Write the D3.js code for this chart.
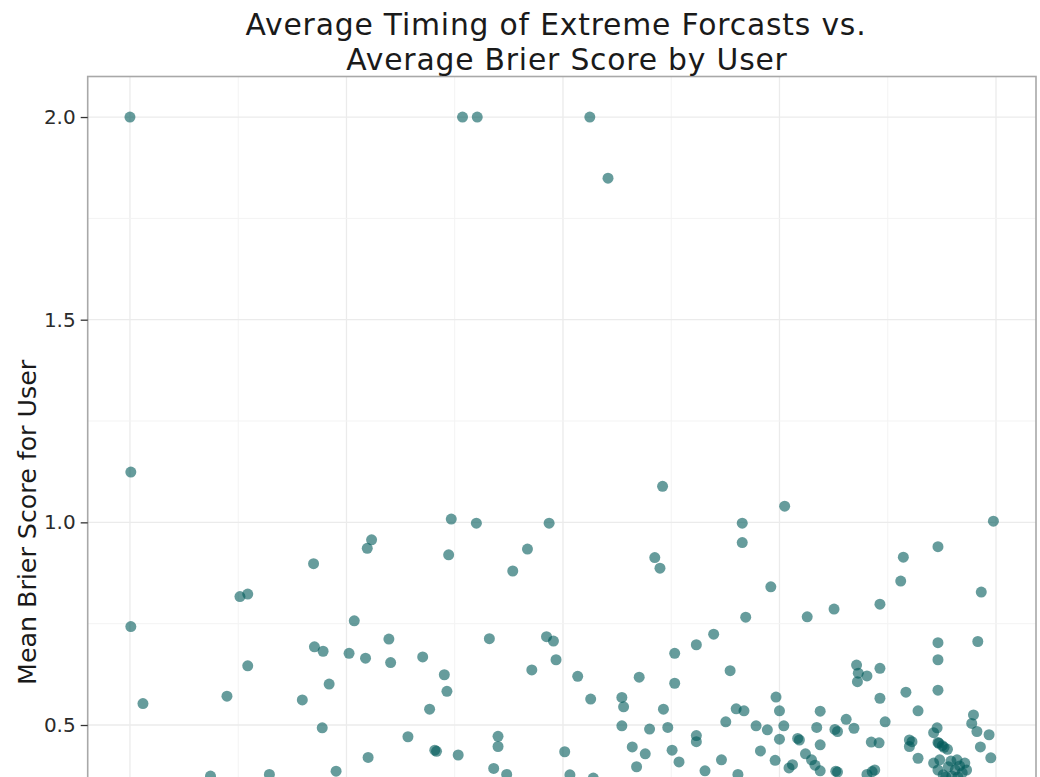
<!DOCTYPE html>
<html>
<head>
<meta charset="utf-8">
<script src="https://cdn.jsdelivr.net/npm/d3@7"></script>
<style>
  html, body { margin: 0; padding: 0; background: #fff; overflow: hidden; }
  svg { display: block; font-family: "DejaVu Sans", sans-serif; }
</style>
</head>
<body>
<svg id="chart" width="1040" height="777"></svg>
<script>
// ---- data ----
const titleLines = ["Average Timing of Extreme Forcasts vs.", "Average Brier Score by User"];
const yAxisLabel = "Mean Brier Score for User";
const yTickValues = [0.5, 1.0, 1.5, 2.0];
const yTickLabels = ["0.5", "1.0", "1.5", "2.0"];
const xGridValues = [0, 0.125, 0.25, 0.375, 0.5, 0.625, 0.75, 0.875, 1.0];
const yGridValues = [0, 0.25, 0.5, 0.75, 1.0, 1.25, 1.5, 1.75, 2.0];

const timing = [
  0.000, 0.384, 0.401, 0.531, 0.552, 0.001, 0.001, 0.279, 0.274, 0.212,
  0.127, 0.136, 0.259, 0.299, 0.213, 0.223, 0.253, 0.272, 0.301, 0.338,
  0.136, 0.015, 0.112, 0.199, 0.230, 0.222, 0.321, 0.275, 0.093, 0.161,
  0.238, 0.346, 0.363, 0.366, 0.352, 0.354, 0.379, 0.425, 0.425, 0.420,
  0.435, 0.464, 0.492, 0.502, 0.371, 0.400, 0.484, 0.368, 0.459, 0.442,
  0.615, 0.606, 0.612, 0.707, 0.707, 0.415, 0.481, 0.489, 0.517, 0.532,
  0.568, 0.570, 0.588, 0.629, 0.629, 0.654, 0.674, 0.693, 0.700, 0.709,
  0.688, 0.616, 0.568, 0.600, 0.621, 0.654, 0.654, 0.580, 0.595, 0.585,
  0.626, 0.634, 0.683, 0.664, 0.702, 0.508, 0.535, 0.756, 0.997, 0.933,
  0.893, 0.890, 0.740, 0.983, 0.866, 0.813, 0.782, 0.711, 0.933, 0.979,
  0.933, 0.839, 0.841, 0.851, 0.840, 0.866, 0.896, 0.866, 0.933, 0.910,
  0.872, 0.746, 0.750, 0.797, 0.723, 0.736, 0.755, 0.750, 0.771, 0.773,
  0.793, 0.814, 0.817, 0.827, 0.836, 0.797, 0.780, 0.787, 0.765, 0.761,
  0.728, 0.745, 0.791, 0.815, 0.817, 0.797, 0.856, 0.865, 0.900, 0.903,
  0.900, 0.910, 0.857, 0.860, 0.851, 0.932, 0.928, 0.933, 0.938, 0.944,
  0.934, 0.940, 0.974, 0.972, 0.978, 0.992, 0.982, 0.994, 0.928, 0.933,
  0.939, 0.945, 0.948, 0.953, 0.955, 0.958, 0.961, 0.964, 0.966, 0.942,
  0.949, 0.935, 0.956
];
const brier = [
  2.000, 2.000, 2.000, 2.000, 1.849, 1.124, 0.743, 0.957, 0.936, 0.898,
  0.817, 0.823, 0.757, 0.712, 0.693, 0.682, 0.677, 0.665, 0.654, 0.668,
  0.646, 0.553, 0.571, 0.562, 0.601, 0.493, 0.471, 0.420, 0.374, 0.378,
  0.386, 0.539, 0.624, 0.583, 0.438, 0.435, 0.426, 0.472, 0.447, 0.393,
  0.378, 0.636, 0.661, 0.434, 1.008, 0.998, 0.998, 0.920, 0.934, 0.880,
  1.089, 0.913, 0.887, 0.998, 0.950, 0.713, 0.718, 0.707, 0.620, 0.564,
  0.568, 0.545, 0.618, 0.677, 0.603, 0.698, 0.724, 0.634, 0.540, 0.535,
  0.508, 0.539, 0.498, 0.490, 0.494, 0.474, 0.459, 0.446, 0.429, 0.397,
  0.438, 0.409, 0.414, 0.387, 0.378, 0.377, 0.369, 1.040, 1.003, 0.940,
  0.914, 0.855, 0.841, 0.828, 0.798, 0.786, 0.767, 0.766, 0.703, 0.706,
  0.661, 0.648, 0.628, 0.621, 0.607, 0.640, 0.581, 0.566, 0.586, 0.535,
  0.508, 0.569, 0.535, 0.534, 0.498, 0.488, 0.498, 0.465, 0.467, 0.463,
  0.494, 0.489, 0.484, 0.514, 0.492, 0.451, 0.429, 0.414, 0.402, 0.394,
  0.436, 0.413, 0.401, 0.386, 0.384, 0.387, 0.458, 0.456, 0.463, 0.459,
  0.447, 0.418, 0.385, 0.389, 0.378, 0.493, 0.481, 0.457, 0.449, 0.440,
  0.455, 0.445, 0.525, 0.504, 0.484, 0.476, 0.446, 0.419, 0.406, 0.389,
  0.377, 0.397, 0.411, 0.389, 0.414, 0.399, 0.382, 0.406, 0.389, 0.372,
  0.374, 0.414, 0.372
];

// ---- layout ----
const panel = { left: 87.7, right: 1036, top: 76.5, bottom: 968.2 };

const svg = d3.select("#chart");

const x = d3.scaleLinear().domain([-0.0488, 1.0462]).range([panel.left, panel.right]);
const y = d3.scaleLinear().domain([-0.1, 2.1]).range([panel.bottom, panel.top]);

// panel background
svg.append("rect")
  .attr("x", panel.left).attr("y", panel.top)
  .attr("width", panel.right - panel.left).attr("height", panel.bottom - panel.top)
  .attr("fill", "#ffffff");

// grid
const grid = svg.append("g");
grid.selectAll("line.vx").data(xGridValues).join("line")
  .attr("x1", d => x(d)).attr("x2", d => x(d))
  .attr("y1", panel.top).attr("y2", panel.bottom)
  .attr("stroke", (d, i) => i % 2 === 0 ? "#ebebeb" : "#f3f3f3")
  .attr("stroke-width", (d, i) => i % 2 === 0 ? 1.3 : 1.0);
grid.selectAll("line.hy").data(yGridValues).join("line")
  .attr("y1", d => y(d)).attr("y2", d => y(d))
  .attr("x1", panel.left).attr("x2", panel.right)
  .attr("stroke", (d, i) => i % 2 === 0 ? "#ebebeb" : "#f3f3f3")
  .attr("stroke-width", (d, i) => i % 2 === 0 ? 1.3 : 1.0);

// points
const pts = timing.map((t, i) => ({ t, b: brier[i] }));
svg.append("g").selectAll("circle").data(pts).join("circle")
  .attr("cx", d => x(d.t)).attr("cy", d => y(d.b))
  .attr("r", 5.5)
  .attr("fill", "#005a5a")
  .attr("fill-opacity", 0.6);

// panel border
svg.append("rect")
  .attr("x", panel.left).attr("y", panel.top)
  .attr("width", panel.right - panel.left).attr("height", panel.bottom - panel.top)
  .attr("fill", "none").attr("stroke", "#a8a8a8").attr("stroke-width", 1.6);

// y axis
const yAxis = d3.axisLeft(y).tickValues(yTickValues)
  .tickFormat((d, i) => yTickLabels[i]).tickSize(7).tickPadding(5);
const gy = svg.append("g").attr("transform", `translate(${panel.left},0)`).call(yAxis);
gy.select(".domain").remove();
gy.selectAll(".tick line").attr("stroke", "#333333").attr("stroke-width", 1.3);
gy.selectAll(".tick text").attr("fill", "#2b2b2b")
  .style("font-family", "'DejaVu Sans', sans-serif").style("font-size", "20px");

// y axis title
svg.append("text")
  .attr("transform", `translate(36, ${(panel.top + panel.bottom) / 2}) rotate(-90)`)
  .attr("text-anchor", "middle")
  .attr("fill", "#1a1a1a")
  .style("font-size", "25.3px")
  .text(yAxisLabel);

// title
const titleCenters = [556, 567];
const titleBaselines = [34.5, 69.5];
svg.append("g").selectAll("text").data(titleLines).join("text")
  .attr("x", (d, i) => titleCenters[i]).attr("y", (d, i) => titleBaselines[i])
  .attr("text-anchor", "middle")
  .attr("fill", "#1a1a1a")
  .style("font-size", "29.8px")
  .style("letter-spacing", "0.8px")
  .text(d => d);
</script>
</body>
</html>
